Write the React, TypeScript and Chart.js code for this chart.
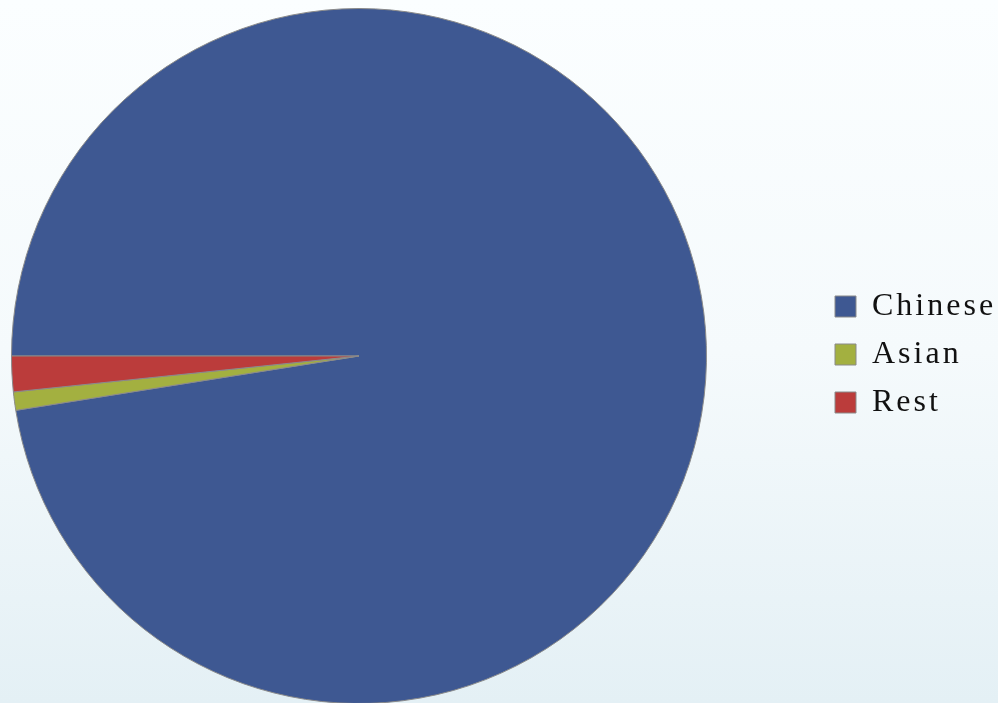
import React, { useEffect, useRef } from "react";
import { Chart, registerables } from "chart.js";

Chart.register(...registerables);

const categories = ["Chinese", "Asian", "Rest"];
const shares = [97.5, 0.85, 1.65];
const sliceColors = ["#3E5892", "#A3B040", "#BB3C3B"];

const layoutFix = {
  id: "layoutFix",
  beforeLayout(chart: any) {
    chart.ctx.letterSpacing = "3px";
  },
  afterLayout(chart: any) {
    const ca = chart.chartArea;
    ca.left = 11;
    ca.top = 8;
    ca.right = 707;
    ca.bottom = 704;
    ca.width = 696;
    ca.height = 696;
    if (chart.legend) chart.legend.left = 819;
  },
  beforeDraw(chart: any) {
    chart.ctx.letterSpacing = "3px";
  },
};

export default function App() {
  const ref = useRef<HTMLCanvasElement | null>(null);
  useEffect(() => {
    if (!ref.current) return;
    const chart = new Chart(ref.current, {
      type: "pie",
      data: {
        labels: categories,
        datasets: [
          {
            data: shares,
            backgroundColor: sliceColors,
            borderColor: "#8a8a8a",
            borderWidth: 1,
          },
        ],
      },
      options: {
        animation: false,
        responsive: true,
        maintainAspectRatio: false,
        rotation: 270,
        layout: { padding: { top: 6, bottom: 0, left: 0, right: 0 } },
        plugins: {
          tooltip: { enabled: false },
          legend: {
            position: "right",
            labels: {
              boxWidth: 21,
              boxHeight: 21,
              padding: 16,
              color: "#111",
              font: { family: "'Liberation Serif', serif", size: 32 },
            },
          },
        },
      },
      plugins: [layoutFix],
    });
    return () => chart.destroy();
  }, []);
  return (
    <div
      style={{
        position: "fixed",
        inset: 0,
        background: "linear-gradient(to bottom, #fbfeff 0%, #f5fafc 50%, #e4f0f5 100%)",
      }}
    >
      <div style={{ position: "relative", width: 998, height: 703 }}>
        <canvas ref={ref} />
      </div>
    </div>
  );
}
